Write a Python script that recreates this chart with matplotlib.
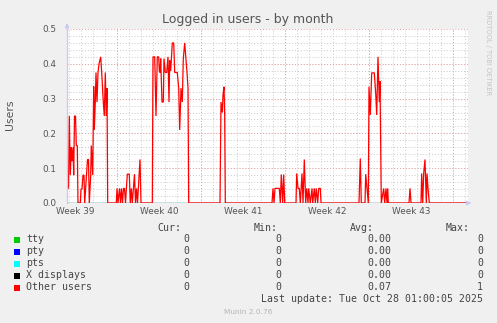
import matplotlib
matplotlib.use("Agg")
import matplotlib.pyplot as plt
import numpy as np

# ---- data: hours since left edge of graph (Wed 24 Sep 2025 ~20:00), Other users value ----
hours = [0, 3, 4.6, 6.6, 8.6, 10, 12, 13.4, 15, 17, 18.6, 20.6, 22, 26.6, 28, 30, 32, 34, 35.4,
         38, 41, 43, 44.6, 47.4, 48.6, 51.4, 53.4, 54.6, 56.6, 58, 60, 62, 64, 67.4, 69.4,
         72.6, 74.6, 76.6, 78.6, 80, 81.4,
         98.6, 100, 102, 105, 107, 109, 111, 113, 115, 117, 120.6, 124.6, 126.6, 128.6,
         130.6, 135, 137, 139, 141, 146, 148,
         170.6, 172, 175.4, 178, 180.6, 183.4, 184.6, 186, 187.4, 190, 192.6, 194, 196.6,
         199.4, 202, 204, 205.4, 207.4, 210.6, 213.4, 215.4, 220.6, 223.4, 225.4, 228,
         230.6, 232.6, 235.4, 240, 242, 243.4,
         306, 308, 310.6, 312, 314, 315.4, 316.6,
         410, 412, 414, 416, 424.6, 426.6, 428.6, 431.4, 433.4, 435.4,
         458, 459.4, 462, 464.6, 466.6, 470, 472, 474.6, 477.4, 479.4, 482, 483.4, 486.6,
         490, 491.4, 494.6, 496.6, 498.6, 501.4, 503.4, 506.6, 508,
         584, 586.6, 588.6, 596, 597.4, 600, 602.6, 604, 606.6, 609.4, 614.6, 617.4, 619.4,
         622, 624.6, 626, 628.6, 633.4, 635.4, 638, 640, 641.4, 642.6,
         684, 686, 688, 708, 709.4, 711.4, 713.4, 716, 718.6, 720, 722, 724.6, 802]
other_users = [0.04, 0.043, 0.25, 0.08, 0.16, 0.12, 0.16, 0.08, 0.25, 0.25, 0.165, 0.165, 0, 0, 0.04, 0.04, 0.08, 0.08, 0,
               0.06, 0.125, 0.125, 0, 0.08, 0.165, 0.08, 0.335, 0.21, 0.29, 0.375, 0.29, 0.375, 0.4, 0.42, 0.375,
               0.29, 0.25, 0.375, 0.25, 0.33, 0,
               0, 0.042, 0, 0.042, 0, 0.042, 0, 0.042, 0.042, 0, 0.083, 0.083, 0, 0.042,
               0, 0.083, 0, 0.042, 0, 0.125, 0,
               0, 0.42, 0.42, 0.25, 0.42, 0.42, 0.38, 0.375, 0.415, 0.29, 0.29, 0.415, 0.375,
               0.375, 0.42, 0.29, 0.41, 0.38, 0.46, 0.46, 0.375, 0.375, 0.33, 0.21, 0.33,
               0.29, 0.415, 0.46, 0.375, 0.33, 0,
               0, 0.29, 0.26, 0.31, 0.334, 0.25, 0,
               0, 0.042, 0, 0.042, 0.042, 0, 0.082, 0, 0.082, 0,
               0, 0.085, 0.042, 0.042, 0, 0.085, 0, 0.125, 0, 0.042, 0, 0.042, 0,
               0.042, 0, 0.042, 0, 0.042, 0, 0.042, 0.042, 0,
               0, 0.128, 0, 0, 0.083, 0.04, 0, 0.334, 0.253, 0.374, 0.374, 0.315, 0.253,
               0.42, 0.29, 0.35, 0, 0.042, 0, 0.042, 0, 0.042, 0,
               0, 0.042, 0, 0, 0.085, 0, 0.085, 0.125, 0, 0.085, 0.042, 0, 0]

week_labels = ["Week 39", "Week 40", "Week 41", "Week 42", "Week 43"]
first_week_start = -68       # Monday 00:00 of week 39 in hours since graph start
y_ticks = [0.0, 0.1, 0.2, 0.3, 0.4, 0.5]

series_names = ["tty", "pty", "pts", "X displays", "Other users"]
series_colors = ["#00CC00", "#0000FF", "#00FFFF", "#000000", "#FF0000"]
cur_vals = ["0", "0", "0", "0", "0"]
min_vals = ["0", "0", "0", "0", "0"]
avg_vals = ["0.00", "0.00", "0.00", "0.00", "0.07"]
max_vals = ["0", "0", "0", "0", "1"]
last_update = "Last update: Tue Oct 28 01:00:05 2025"
x_end = 802

W, H = 497, 323
fig = plt.figure(figsize=(W / 100, H / 100), dpi=100, facecolor="#F0F0F0")
L, R, T, B = 67, 468, 29, 203
ax = fig.add_axes([L / W, 1 - B / H, (R - L) / W, (B - T) / H])
ax.set_facecolor("white")
ax.set_xlim(0, x_end)
ax.set_ylim(0, 0.5)
for s in ax.spines.values():
    s.set_visible(False)

minor_col = "#CACACA"
major_col = "#E6A0A0"
dash = (0, (1, 2))
# minor grid
day_lines = [first_week_start + 24 * k for k in range(0, 40) if 0 < first_week_start + 24 * k < x_end]
for d in day_lines:
    ax.axvline(d, color=minor_col, lw=0.7, ls=dash, zorder=1)
for v in np.arange(0.02, 0.5, 0.02):
    ax.axhline(v, color=minor_col, lw=0.7, ls=dash, zorder=1)
# major grid
week_lines = [first_week_start + 168 * k for k in range(0, 6) if 0 < first_week_start + 168 * k < x_end]
for w in week_lines:
    ax.axvline(w, color=major_col, lw=0.7, ls=dash, zorder=1.5)
for v in y_ticks[1:]:
    ax.axhline(v, color=major_col, lw=0.7, ls=dash, zorder=1.5)

# series
for name, col in zip(series_names[:-1], series_colors[:-1]):
    ax.plot([0, x_end], [0, 0], color=col, lw=0.8, zorder=2)
ax.plot(hours, other_users, color=series_colors[-1], lw=0.9, zorder=3, solid_joinstyle="miter")

# axes arrows
axis_col = "#C8C8F0"
ax.plot([0, 0], [0, 0.5], color=axis_col, lw=0.9, zorder=4, clip_on=False)
ax.annotate("", xy=(0, 0.525), xytext=(0, 0.49), xycoords="data",
            arrowprops=dict(arrowstyle="-|>", color=axis_col, lw=0.8, mutation_scale=6),
            annotation_clip=False)
ax.annotate("", xy=(x_end + 12, 0), xytext=(x_end - 4, 0), xycoords="data",
            arrowprops=dict(arrowstyle="-|>", color=axis_col, lw=0.8, mutation_scale=6),
            annotation_clip=False)

tick_col = "#555555"
ax.set_yticks(y_ticks)
ax.set_yticklabels([f"{v:.1f}" for v in y_ticks])
ax.set_xticks([first_week_start + 84 + 168 * k for k in range(len(week_labels))])
ax.set_xticklabels(week_labels)
ax.tick_params(axis="both", length=0, labelsize=6.4, colors=tick_col)
ax.tick_params(axis="y", pad=8)
ax.tick_params(axis="x", pad=3)

def ft(x, y, s, **kw):
    fig.text(x / W, 1 - y / H, s, **kw)

ft(248, 19, "Logged in users - by month", ha="center", va="center", fontsize=9, color="#555555")
ft(10, 115, "Users", ha="center", va="center", rotation=90, fontsize=7.8, color="#555555")
ft(488, 53, "RRDTOOL / TOBI OETIKER", ha="center", va="center", rotation=270, fontsize=4.8, color="#C4C4C4")

mono = dict(family="DejaVu Sans Mono", fontsize=7.1, color="#444444", va="center")
ft(181, 228, "Cur:", ha="right", **mono)
ft(278, 228, "Min:", ha="right", **mono)
ft(374, 228, "Avg:", ha="right", **mono)
ft(470, 228, "Max:", ha="right", **mono)
row_y = [239.5, 251.5, 263.5, 275.5, 287.5]
for i, name in enumerate(series_names):
    y = row_y[i]
    fig.patches.append(plt.Rectangle((14 / W, 1 - (y + 3) / H), 6 / W, 6 / H,
                                     transform=fig.transFigure, facecolor=series_colors[i],
                                     edgecolor="none"))
    ft(26, y, name, ha="left", **mono)
    ft(189, y, cur_vals[i], ha="right", **mono)
    ft(281, y, min_vals[i], ha="right", **mono)
    ft(391, y, avg_vals[i], ha="right", **mono)
    ft(483, y, max_vals[i], ha="right", **mono)
ft(483, 299.5, last_update, ha="right", **mono)
ft(248, 311.5, "Munin 2.0.76", ha="center", va="center", fontsize=5.3, color="#B4B4B4")

fig.savefig("out.png", dpi=100, facecolor=fig.get_facecolor())
